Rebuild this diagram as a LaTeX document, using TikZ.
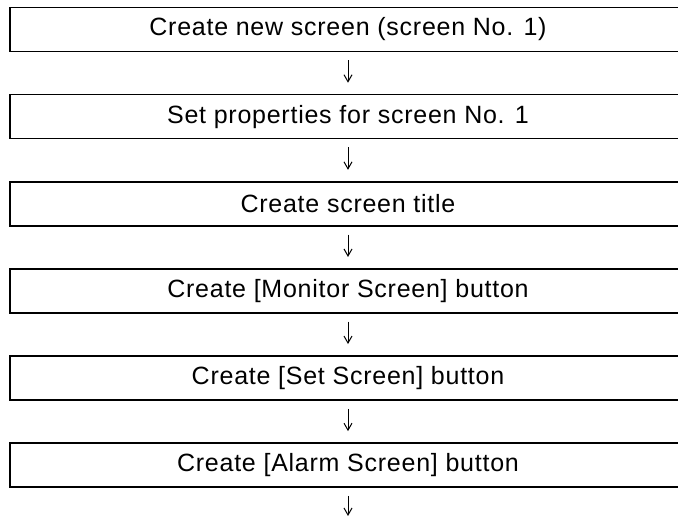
\documentclass[tikz,border=0pt]{standalone}
\usepackage{fontspec}
\setmainfont{Liberation Sans}[LetterSpace=3]
\usepackage{tikz}
\usetikzlibrary{arrows.meta, positioning}

\begin{document}
\begin{tikzpicture}[
  x=1pt, y=-1pt,
  stepbox/.style={rectangle, draw=black, line width=1.7pt, minimum width=676pt, minimum height=44pt, inner sep=0pt, font=\fontsize{25}{29}\selectfont},
  arrow/.style={-{Straight Barb[length=7pt, width=8pt]}, line width=1pt, shorten <=8pt, shorten >=11pt}
]
  \useasboundingbox (0,0) rectangle (678,516);

  \node[stepbox] (s1) at (348, 29.5)  {Create new screen (screen No. 1)};
  \node[stepbox] (s2) at (348, 116.6) {Set properties for screen No. 1};
  \node[stepbox] (s3) at (348, 203.7) {Create screen title};
  \node[stepbox] (s4) at (348, 290.8) {Create [Monitor Screen] button};
  \node[stepbox] (s5) at (348, 377.9) {Create [Set Screen] button};
  \node[stepbox] (s6) at (348, 465)   {Create [Alarm Screen] button};
  \coordinate (next) at (348, 530);

  % Flow
  \draw[arrow] (s1) -- (s2);
  \draw[arrow] (s2) -- (s3);
  \draw[arrow] (s3) -- (s4);
  \draw[arrow] (s4) -- (s5);
  \draw[arrow] (s5) -- (s6);
  \draw[-{Straight Barb[length=7pt, width=8pt]}, line width=1pt, shorten <=8pt, shorten >=14pt] (s6) -- (next);
\end{tikzpicture}
\end{document}
